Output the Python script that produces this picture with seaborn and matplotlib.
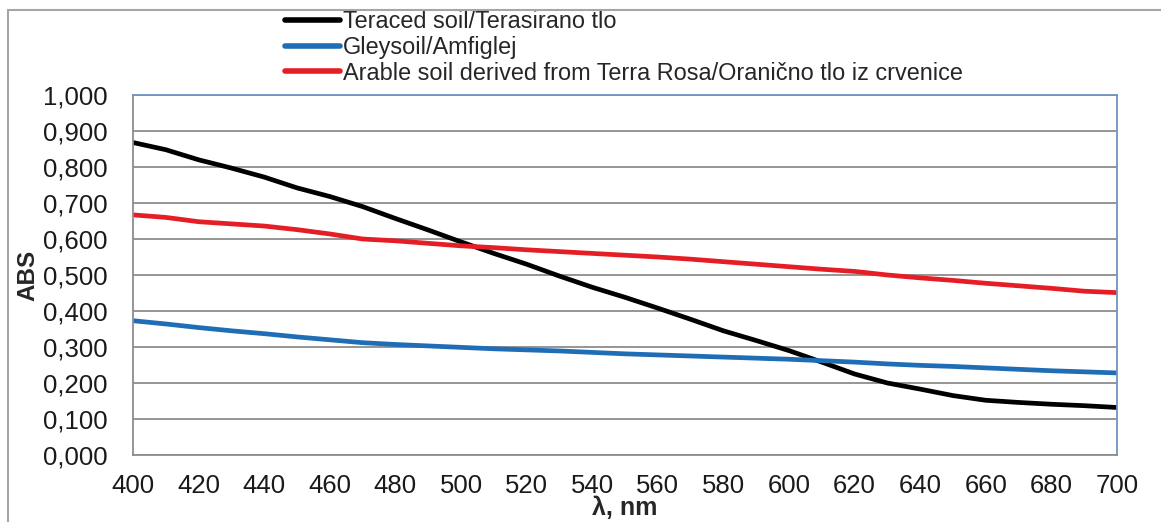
import numpy as np
import pandas as pd
import matplotlib
matplotlib.use("Agg")
import matplotlib.pyplot as plt
from matplotlib.lines import Line2D
from matplotlib.ticker import FuncFormatter, MultipleLocator
import seaborn as sns

wavelength = list(range(400, 701, 10))
teraced = [0.868, 0.848, 0.820, 0.797, 0.772, 0.742, 0.718, 0.690, 0.657, 0.625,
           0.592, 0.560, 0.530, 0.497, 0.466, 0.438, 0.408, 0.377, 0.345, 0.318,
           0.290, 0.258, 0.225, 0.200, 0.183, 0.165, 0.152, 0.146, 0.141, 0.137, 0.132]
gleysoil = [0.373, 0.364, 0.354, 0.345, 0.337, 0.328, 0.320, 0.312, 0.307, 0.303,
            0.299, 0.295, 0.292, 0.289, 0.285, 0.281, 0.278, 0.275, 0.272, 0.269,
            0.266, 0.262, 0.258, 0.253, 0.249, 0.246, 0.242, 0.238, 0.234, 0.231, 0.228]
arable = [0.667, 0.660, 0.648, 0.642, 0.636, 0.626, 0.614, 0.600, 0.595, 0.588,
          0.581, 0.576, 0.570, 0.565, 0.560, 0.555, 0.550, 0.544, 0.537, 0.530,
          0.523, 0.516, 0.510, 0.500, 0.492, 0.485, 0.477, 0.470, 0.463, 0.455, 0.451]
series_names = ["Teraced soil/Terasirano tlo",
                "Gleysoil/Amfiglej",
                "Arable soil derived from Terra Rosa/Oranično tlo iz crvenice"]
colors = ["#000000", "#1f6db5", "#e51e26"]
x_ticks = list(range(400, 701, 20))

df = pd.concat([
    pd.DataFrame({"wl": wavelength, "abs": vals, "soil": name})
    for name, vals in zip(series_names, [teraced, gleysoil, arable])
])

sns.set_style("white")
plt.rcParams["font.family"] = ["Liberation Sans", "DejaVu Sans"]

W, H = 1161, 522
fig = plt.figure(figsize=(W / 100, H / 100), dpi=100)
ax = fig.add_axes([133 / W, 1 - 455 / H, (1117 - 133) / W, (455 - 95) / H])

sns.lineplot(data=df, x="wl", y="abs", hue="soil", hue_order=series_names,
             palette=colors, linewidth=3.4, ax=ax, legend=False)

ax.set_xlim(400, 700)
ax.set_ylim(0, 1.0)
ax.set_xticks(x_ticks)
ax.yaxis.set_major_locator(MultipleLocator(0.1))
ax.yaxis.set_major_formatter(FuncFormatter(lambda v, p: f"{v:.3f}".replace(".", ",")))
ax.tick_params(axis="both", length=0, labelsize=18.5, colors="#1a1a1a")
ax.tick_params(axis="y", pad=18)
ax.tick_params(axis="x", pad=14)
ax.grid(axis="y", color="#8c8c8c", linewidth=1.3)
ax.set_axisbelow(True)
for side in ["left", "bottom"]:
    ax.spines[side].set_color("#8c8c8c")
    ax.spines[side].set_linewidth(1.3)
for side in ["top", "right"]:
    ax.spines[side].set_color("#6f94c4")
    ax.spines[side].set_linewidth(1.3)
    ax.spines[side].set_visible(True)

ax.set_xlabel("λ, nm", fontsize=18, fontweight="bold", labelpad=-2)
ax.set_ylabel("ABS", fontsize=17.5, fontweight="bold", labelpad=3)

handles = [Line2D([], [], color=c, linewidth=4) for c in colors]
ax.legend(handles, series_names, loc="upper left",
          bbox_to_anchor=(285 / W, 1 - 10 / H), bbox_transform=fig.transFigure,
          frameon=False, fontsize=16.9, handlelength=2.35, handletextpad=0.1,
          borderpad=0, borderaxespad=0, labelspacing=0.12)

frame_color = "#a6a6a6"
fig.add_artist(Line2D([8 / W, 8 / W], [0, 1 - 10 / H], transform=fig.transFigure,
                      color=frame_color, linewidth=1.5))
fig.add_artist(Line2D([8 / W, 1], [1 - 10 / H, 1 - 10 / H], transform=fig.transFigure,
                      color=frame_color, linewidth=1.5))

fig.savefig("out.png", dpi=100)
